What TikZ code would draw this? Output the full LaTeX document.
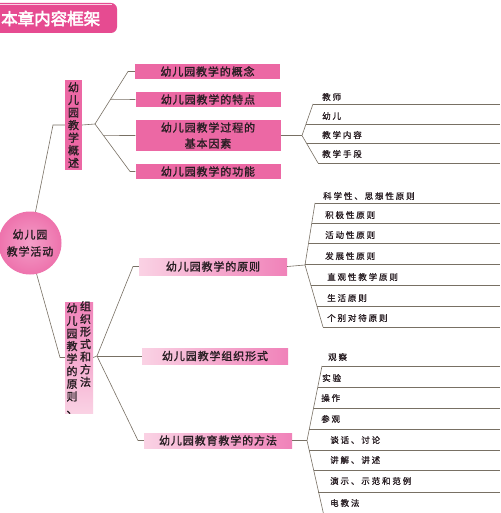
\documentclass[tikz,border=0pt]{standalone}
\usepackage{fontspec}
\setmainfont{Noto Sans CJK SC}
\newfontfamily\lblfont{Noto Sans CJK SC}[FakeBold=1.5,LetterSpace=8]
\newfontfamily\vfont{Noto Sans CJK SC}[FakeBold=1.5]
\newfontfamily\itemfont{Noto Sans CJK SC}[FakeBold=1.2,LetterSpace=22]
\newfontfamily\titlefont{Noto Sans CJK SC}[FakeBold=3.2]
\usetikzlibrary{calc}
\definecolor{pinkA}{RGB}{236,104,164}
\definecolor{pinkB}{RGB}{240,130,185}
\definecolor{pinkL}{RGB}{250,210,228}
\definecolor{linec}{RGB}{120,112,100}
\definecolor{txt}{RGB}{40,30,35}
\definecolor{titlec}{RGB}{230,75,145}
\begin{document}
\begin{tikzpicture}[x=1pt,y=-1pt,
  conn/.style={draw=linec,line width=0.6pt},
  topbox/.style={fill=pinkA,inner sep=0pt,minimum height=15pt,minimum width=145pt,text=txt,font=\lblfont\fontsize{11}{16}\selectfont,align=center},
  lowbox/.style={left color=pinkL,right color=pinkB,inner sep=0pt,minimum height=16pt,text=txt,font=\lblfont\fontsize{11}{16}\selectfont},
  vtext/.style={inner sep=0pt,text=txt,align=center,font=\vfont\fontsize{11}{12.6}\selectfont},
  itemtext/.style={anchor=west,inner sep=0pt,text=txt,font=\itemfont\fontsize{8.5}{10}\selectfont}]
\useasboundingbox (0,0) rectangle (500,513);
\clip (0,0) rectangle (500,513);
\fill[white] (0,0) rectangle (500,513);
% title banner
\fill[titlec,rounded corners=6pt] (-10,3) rectangle (117,33);
\draw[pinkL,line width=0.8pt] (-10,4.5) -- (112,4.5);
\node[anchor=west,inner sep=0pt,text=white,font=\titlefont\fontsize{16.5}{17}\selectfont] (title) at (1,18.5) {本章内容框架};
% root circle
\node[circle,minimum size=63pt,inner sep=0pt,inner color=pinkB!65!pinkL,outer color=pinkA!60!pinkB,text=txt,align=center,font=\lblfont\fontsize{11}{17}\selectfont] (root) at (30,243) {幼儿园\\教学活动};
% section A
\node[fill=pinkA,minimum width=17pt,minimum height=90pt,vtext] (A) at (73.5,125) {幼\\儿\\园\\教\\学\\概\\述};
\node[topbox] (a1) at (207.5,71.5) {幼儿园教学的概念};
\node[topbox] (a2) at (208,99.5) {幼儿园教学的特点};
\node[topbox,minimum height=31pt] (a3) at (208,135.5) {幼儿园教学过程的\\基本因素};
\node[topbox] (a4) at (208,171.5) {幼儿园教学的功能};
% section B
\node[top color=pinkB,bottom color=pinkL,minimum width=28pt,minimum height=111pt,inner sep=0pt] (B) at (79,357.5) {};
\node[vtext,anchor=north] (Bl) at (72,303) {幼\\儿\\园\\教\\学\\的\\原\\则\\、};
\node[vtext,anchor=north] (Br) at (85.5,301) {组\\织\\形\\式\\和\\方\\法};
\node[lowbox,minimum width=148pt,minimum height=17pt] (P) at (213,266.5) {幼儿园教学的原则};
\node[lowbox,minimum width=146pt] (O) at (215,356) {幼儿园教学组织形式};
\node[lowbox,minimum width=148pt,minimum height=15pt] (Mt) at (218,440.5) {幼儿园教育教学的方法};
% root connectors
\coordinate (rAb) at (53,125);
\coordinate (rBb) at (60,357.5);
\draw[conn] (root.80) -- (rAb) -- (A.west);
\draw[conn] (root.-78) -- (rBb) -- (B.west);
% A fan
\coordinate (fA) at (95,124);
\coordinate (a1b) at (128,71.5);
\coordinate (a4b) at (130,171.5);
\draw[conn] (A.east) -- (fA);
\draw[conn] (fA) -- (a1b) -- (a1.west);
\draw[conn] (fA) -- (a4b) -- (a4.west);
\draw[conn] ($(fA)!0.471!(a1b)$) -- (a2.west);
\draw[conn] ($(fA)!0.24!(a4b)$) -- (a3.west);
% B fan
\coordinate (fB) at (97,356);
\coordinate (Pb) at (133,266.5);
\coordinate (Mb) at (138,440.5);
\draw[conn] (B.east) -- (fB);
\draw[conn] (fB) -- (Pb) -- (P.west);
\draw[conn] (fB) -- (O.west);
\draw[conn] (fB) -- (Mb) -- (Mt.west);
% process factors
\coordinate (cT) at (313,104);
\coordinate (cM) at (302,135.5);
\coordinate (cB) at (318,163);
\draw[conn] (a3.east) -- (cM);
\draw[conn] (cT) -- (cM) -- (cB);
\draw[conn] (cT) -- (500,104);
\draw[conn] (305.8,124) -- (500,124);
\draw[conn] (306.6,143) -- (500,143);
\draw[conn] (cB) -- (500,163);
\node[itemtext] (c1) at (322,97) {教师};
\node[itemtext] (c2) at (322,116) {幼儿};
\node[itemtext] (c3) at (322,135) {教学内容};
\node[itemtext] (c4) at (322,154) {教学手段};
% principles
\coordinate (pT) at (315,203);
\coordinate (pM) at (305,265);
\coordinate (pB) at (323,327);
\draw[conn] (P.east) -- (pM);
\draw[conn] (pT) -- (pM) -- (pB);
\draw[conn] (pT) -- (500,203);
\draw[conn] (311.8,223) -- (500,223);
\draw[conn] (308.5,243) -- (500,243);
\draw[conn] (305.2,264) -- (500,264);
\draw[conn] (310.7,285) -- (500,285);
\draw[conn] (316.7,306) -- (500,306);
\draw[conn] (pB) -- (500,327);
\node[itemtext] (p1) at (323,196) {科学性、思想性原则};
\node[itemtext] (p2) at (325,215) {积极性原则};
\node[itemtext] (p3) at (325,235) {活动性原则};
\node[itemtext] (p4) at (325,256) {发展性原则};
\node[itemtext] (p5) at (327,277) {直观性教学原则};
\node[itemtext] (p6) at (327,298) {生活原则};
\node[itemtext] (p7) at (327,318) {个别对待原则};
% methods
\coordinate (mT) at (322,366);
\coordinate (mM) at (307,440.5);
\coordinate (mB) at (324,516);
\draw[conn] (Mt.east) -- (mM);
\draw[conn] (mT) -- (mM) -- (mB);
\draw[conn] (mT) -- (500,366);
\draw[conn] (317.7,387) -- (500,387);
\draw[conn] (313.5,408) -- (500,408);
\draw[conn] (309.2,429) -- (500,429);
\draw[conn] (309.2,450) -- (500,450);
\draw[conn] (313.6,470) -- (500,470);
\draw[conn] (318.4,492) -- (500,492);
\node[itemtext] (m1) at (328,357) {观察};
\node[itemtext] (m2) at (322,378) {实验};
\node[itemtext] (m3) at (321,398) {操作};
\node[itemtext] (m4) at (321,419) {参观};
\node[itemtext] (m5) at (330,440) {谈话、讨论};
\node[itemtext] (m6) at (330,460) {讲解、讲述};
\node[itemtext] (m7) at (330,481) {演示、示范和范例};
\node[itemtext] (m8) at (330,503) {电教法};
\end{tikzpicture}
\end{document}
